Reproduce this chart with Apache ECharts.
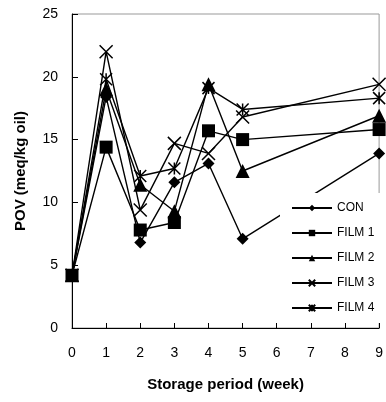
<!DOCTYPE html>
<html>
<head>
<meta charset="utf-8">
<script src="https://cdn.jsdelivr.net/npm/echarts@6/dist/echarts.min.js"></script>
<style>
  html, body { margin: 0; padding: 0; background: #fff; }
  #chart { width: 386px; height: 402px; }
</style>
</head>
<body>
<div id="chart"></div>
<script>
// storage weeks where samples were taken
var weeks = [0, 1, 2, 3, 4, 5, 9];
var xTicks = [0, 1, 2, 3, 4, 5, 6, 7, 8, 9];

var conVals   = [4.2, 18.4, 6.8, 11.6, 13.1, 7.1, 13.9];
var film1Vals = [4.2, 14.4, 7.8, 8.4, 15.7, 15.0, 15.8];
var film2Vals = [4.2, 19.0, 11.4, 9.3, 19.4, 12.5, 16.9];
var film3Vals = [4.2, 22.0, 9.4, 14.7, 13.9, 16.8, 19.4];
var film4Vals = [4.2, 19.8, 12.1, 12.7, 19.1, 17.4, 18.3];

var names = ['CON', 'FILM 1', 'FILM 2', 'FILM 3', 'FILM 4'];

var crossPath = 'path://M0,0L10,10M10,0L0,10';
var starPath = 'path://M0,0L10,10M10,0L0,10M5,0L5,10';

var fontFam = '"Liberation Sans", Arial, sans-serif';

function pairs(vals) {
	var out = [];
	for (var i = 0; i < weeks.length; i++) {
		out.push([weeks[i], vals[i]]);
	}
	return out;
}

function makeSeries(name, vals, symbol, size, stroked) {
	return {
		name: name,
		type: 'line',
		data: pairs(vals),
		symbol: symbol,
		symbolSize: size,
		showAllSymbol: true,
		clip: false,
		lineStyle: {color: '#000', width: 1.4},
		itemStyle: {
			color: stroked ? 'none' : '#000',
			borderColor: '#000',
			borderWidth: stroked ? 1.5 : 0
		},
		emphasis: {disabled: true},
		animation: false
	};
}

var myChart = echarts.init(document.getElementById('chart'));

var option = {
	backgroundColor: '#fff',
	animation: false,
	grid: {left: 72, right: 5, top: 14, bottom: 74, show: true, borderColor: '#999', borderWidth: 1},
	xAxis: {
		type: 'value',
		min: 0,
		max: 9,
		interval: 1,
		name: 'Storage period (week)',
		nameLocation: 'middle',
		nameGap: 49,
		nameTextStyle: {fontFamily: fontFam, fontSize: 15, fontWeight: 'bold', color: '#000'},
		axisLine: {show: true, lineStyle: {color: '#000', width: 1}},
		axisTick: {show: true, inside: true, length: 5, lineStyle: {color: '#000'}},
		axisLabel: {
			margin: 18,
			fontFamily: fontFam,
			fontSize: 14,
			color: '#000',
			formatter: function(v) { return xTicks.indexOf(v) >= 0 ? String(v) : ''; }
		},
		splitLine: {show: false}
	},
	yAxis: {
		type: 'value',
		min: 0,
		max: 25,
		interval: 5,
		name: 'POV (meq/kg oil)',
		nameLocation: 'middle',
		nameGap: 44,
		nameTextStyle: {fontFamily: fontFam, fontSize: 15, fontWeight: 'bold', color: '#000'},
		axisLine: {show: true, lineStyle: {color: '#000', width: 1}},
		axisTick: {show: true, inside: true, length: 6, lineStyle: {color: '#000'}},
		axisLabel: {margin: 14, fontFamily: fontFam, fontSize: 14, color: '#000'},
		splitLine: {show: false}
	},
	legend: {
		orient: 'vertical',
		left: 280,
		top: 193,
		data: names,
		itemWidth: 40,
		itemHeight: 8,
		itemGap: 13,
		padding: [9, 6, 9, 11],
		backgroundColor: '#fff',
		selectedMode: false,
		textStyle: {fontFamily: fontFam, fontSize: 12, color: '#000'}
	},
	series: [
		makeSeries('CON', conVals, 'diamond', 12, false),
		makeSeries('FILM 1', film1Vals, 'rect', 13, false),
		makeSeries('FILM 2', film2Vals, 'triangle', 14, false),
		makeSeries('FILM 3', film3Vals, crossPath, 13, true),
		makeSeries('FILM 4', film4Vals, starPath, 12, true)
	]
};

myChart.setOption(option, true);

window.onresize = function() {
	myChart.resize();
};
</script>
</body>
</html>
